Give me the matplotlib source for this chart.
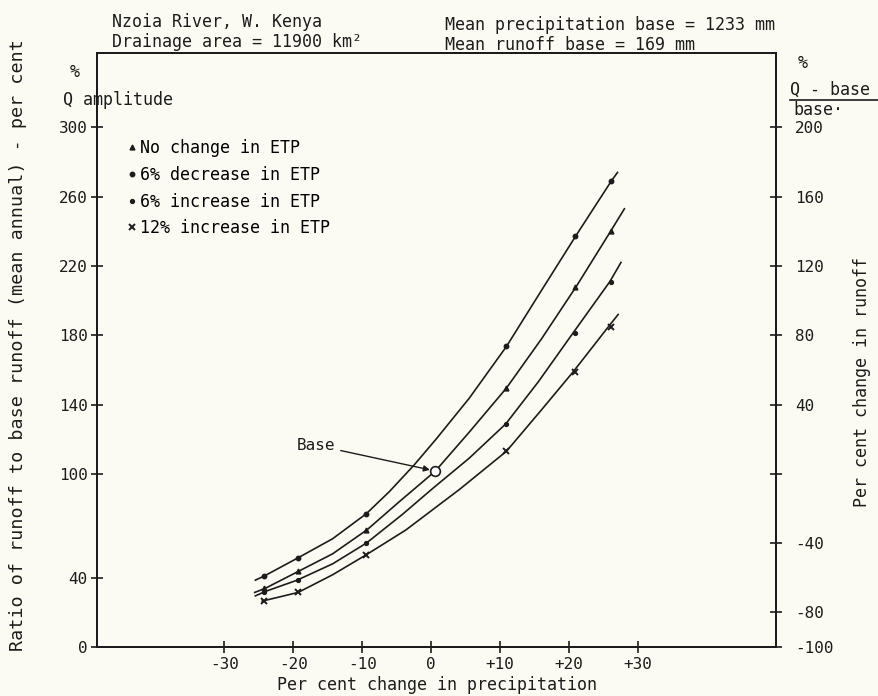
import matplotlib.pyplot as plt
from matplotlib.lines import Line2D

# Curves as drawn: per cent change in precipitation -> ratio (%)
dec6_x = [-25.5, -24.2, -19.3, -14.3, -9.4, -6.1, -2.5, 0.7, 5.5, 10.9, 16, 20.9, 26.1, 27]
dec6_y = [38.6, 41, 51.5, 62.5, 77, 89.6, 105, 120, 143.6, 173.5, 206, 237, 269, 274]

none_x = [-25.6, -24.1, -19.1, -14.3, -9.3, -4.6, 0.6, 5.5, 10.9, 16, 21, 26, 28]
none_y = [31.5, 33.8, 44, 53.8, 67.7, 84, 101.6, 124, 149.5, 178, 208, 240, 253]

inc6_x = [-25.5, -24.1, -19.5, -14.3, -9.4, -4.2, 0.2, 5.5, 10.8, 15.5, 20.5, 25.9, 27.5]
inc6_y = [29.5, 32, 38.5, 48, 60, 76.5, 91.5, 109, 128.8, 153, 181, 211, 222]

inc12_x = [-24.5, -19.3, -14.3, -9.4, -3.7, 4.1, 10.9, 16, 20.6, 25.7, 27.1]
inc12_y = [26.5, 31.5, 41.7, 53.3, 67.5, 91, 113, 137, 159, 185, 192]

# Simulated points marked on the curves
precip_pts = [-24.2, -19.3, -9.4, 10.9, 20.9, 26.0]
dec6_pts = [41, 51.5, 77, 173.5, 237, 269]
none_pts = [33.8, 44, 67.7, 149.5, 208, 240]
inc6_pts = [32, 38.5, 60, 128.8, 181, 211]
inc12_pts = [26.5, 31.5, 53.3, 113, 159, 185]

base_precip, base_ratio = 0.6, 101.6

x_ticks = [-30, -20, -10, 0, 10, 20, 30]
x_labels = ['-30', '-20', '-10', '0', '+10', '+20', '+30']
left_ticks = [0, 40, 100, 140, 180, 220, 260, 300]
right_ticks = [200, 160, 120, 80, 40, 0, -40, -80, -100]
right_labels = ['200', '160', '120', '80', '40', '', '-40', '-80', '-100']

ink = '#1c1c1c'
paper = '#fcfbf3'
plt.rcParams['font.family'] = 'DejaVu Sans Mono'

fig = plt.figure(figsize=(8.79, 6.96), dpi=100, facecolor=paper)
ax = fig.add_axes([0.110, 0.0704, 0.773, 0.8536], facecolor=paper)

for xc, yc in ((dec6_x, dec6_y), (none_x, none_y), (inc6_x, inc6_y), (inc12_x, inc12_y)):
    ax.plot(xc, yc, color=ink, lw=1.2, solid_joinstyle='round')

h_none, = ax.plot(precip_pts, none_pts, ls='none', marker='^', ms=3.5, color=ink,
                  label='No change in ETP')
h_dec, = ax.plot(precip_pts, dec6_pts, ls='none', marker='o', ms=3.2, color=ink,
                 label='6% decrease in ETP')
h_inc, = ax.plot(precip_pts, inc6_pts, ls='none', marker='o', ms=2.8, color=ink,
                 label='6% increase in ETP')
h_inc12, = ax.plot(precip_pts, inc12_pts, ls='none', marker='x', ms=4, mew=1.4, color=ink,
                   label='12% increase in ETP')

ax.plot([base_precip], [base_ratio], ls='none', marker='o', ms=7, mfc='white',
        mec=ink, mew=1.2)
ax.annotate('Base', xy=(base_precip, base_ratio), xytext=(-19.5, 116.5),
            fontsize=11.5, va='center', color=ink,
            arrowprops=dict(arrowstyle='-|>', color=ink, lw=1.0, shrinkA=2, shrinkB=4,
                            mutation_scale=9))

ax.legend(handles=[h_none, h_dec, h_inc, h_inc12], loc='upper left',
          bbox_to_anchor=(0.022, 0.88), frameon=False, fontsize=12,
          handlelength=0.6, handletextpad=0.2, labelspacing=0.52)

ax.set_xlim(-48.5, 50)
ax.set_ylim(0, 343)
ax.set_xticks(x_ticks)
ax.set_xticklabels(x_labels)
ax.set_yticks(left_ticks)
ax.tick_params(axis='both', direction='inout', length=9, width=1.2, colors=ink,
               labelsize=11.5)
ax.tick_params(axis='x', pad=3)
ax.tick_params(axis='y', pad=2)

ax2 = ax.twinx()
ax2.set_ylim(-100, 243)
ax2.set_yticks(right_ticks)
ax2.set_yticklabels(right_labels)
ax2.tick_params(axis='y', direction='inout', length=9, width=1.2, colors=ink,
                labelsize=11.5, pad=9)

for a in (ax, ax2):
    for sp in a.spines.values():
        sp.set_linewidth(1.4)
        sp.set_color(ink)

# axis titles and header notes
fig.text(0.021, 0.504, 'Ratio of runoff to base runoff (mean annual) - per cent',
         rotation=90, ha='center', va='center', fontsize=13.2, color=ink)
fig.text(0.981, 0.451, 'Per cent change in runoff', rotation=90,
         ha='center', va='center', fontsize=12, color=ink)
fig.text(0.497, 0.016, 'Per cent change in precipitation', ha='center', va='center',
         fontsize=12, color=ink)

fig.text(0.127, 0.969, 'Nzoia River, W. Kenya', va='center', fontsize=12, color=ink)
fig.text(0.127, 0.940, 'Drainage area = 11900 km²', va='center', fontsize=12, color=ink)
fig.text(0.506, 0.964, 'Mean precipitation base = 1233 mm', va='center', fontsize=12,
         color=ink)
fig.text(0.506, 0.935, 'Mean runoff base = 169 mm', va='center', fontsize=12, color=ink)

fig.text(0.085, 0.897, '%', ha='center', va='center', fontsize=12, color=ink)
fig.text(0.072, 0.856, 'Q amplitude', va='center', fontsize=12, color=ink)

fig.text(0.913, 0.910, '%', ha='center', va='center', fontsize=12, color=ink)
fig.text(0.899, 0.871, 'Q - base', va='center', fontsize=12, color=ink)
fig.add_artist(Line2D([0.899, 0.999], [0.856, 0.856], color=ink, lw=1.2))
fig.text(0.903, 0.842, 'base·', va='center', fontsize=12, color=ink)

fig.savefig('out.png', dpi=100, facecolor=paper)
